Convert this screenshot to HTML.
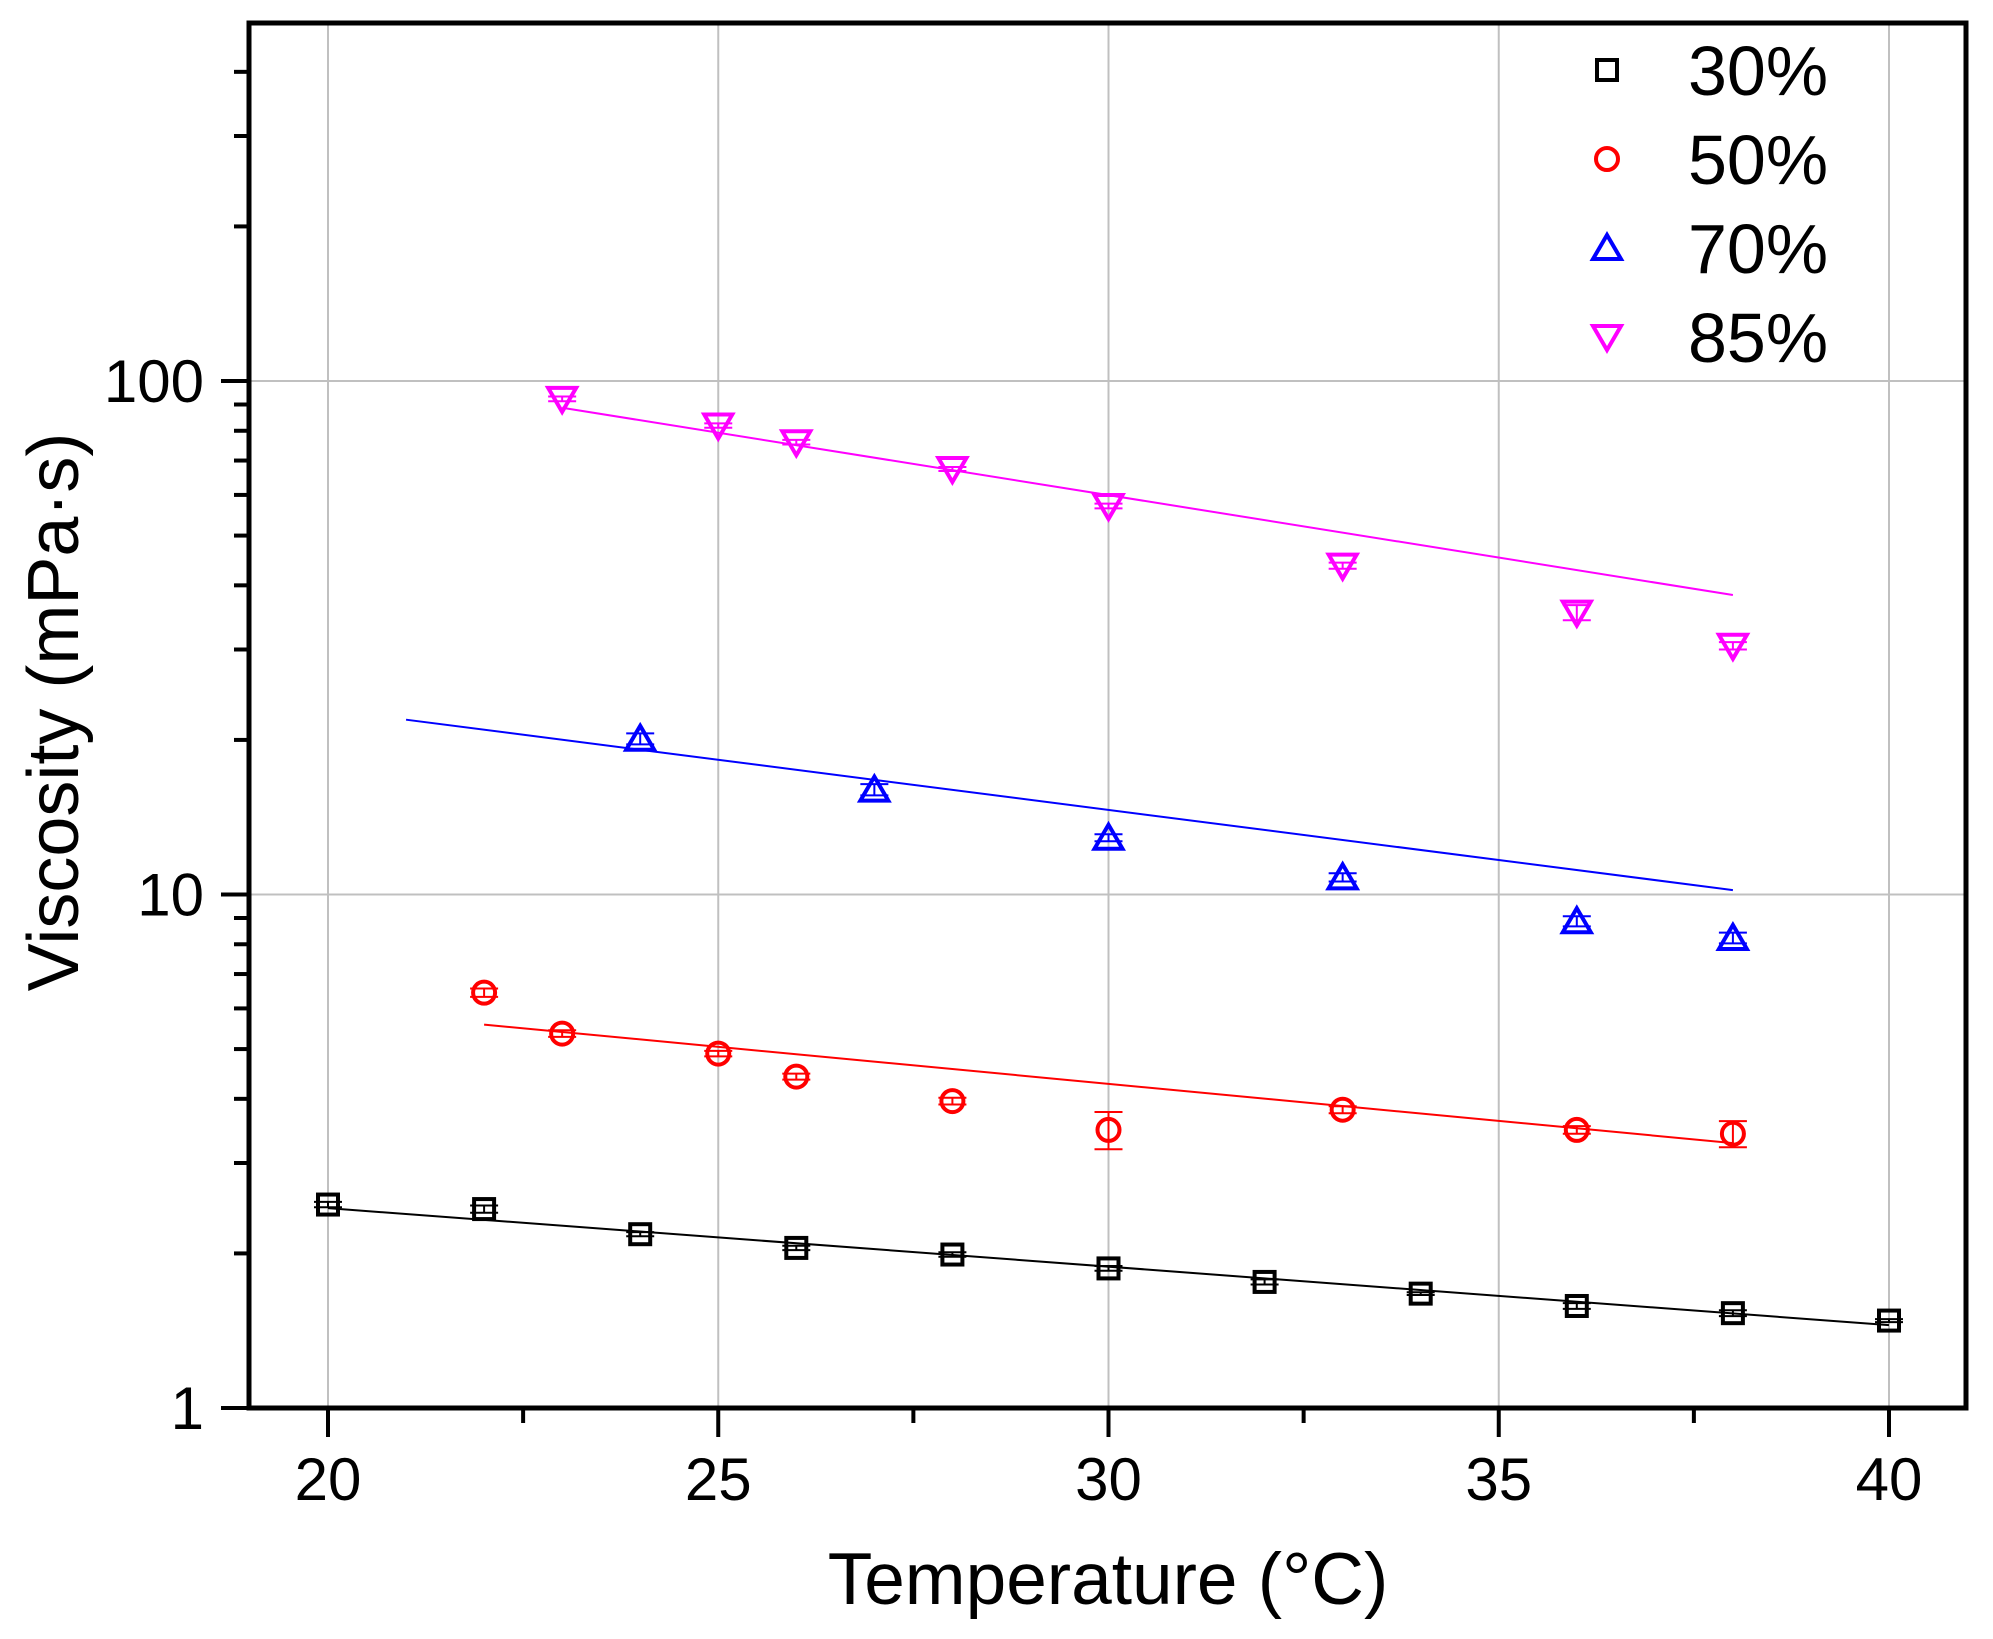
<!DOCTYPE html>
<html><head><meta charset="utf-8"><style>
html,body{margin:0;padding:0;background:#fff;}
svg{display:block;font-family:"Liberation Sans",Arial,sans-serif;}
</style></head><body>
<svg id="chart" width="1993" height="1639" viewBox="0 0 1993 1639" xmlns="http://www.w3.org/2000/svg">
<g id="grid"></g>
<g id="fits"></g>
<g id="marks"></g>
<g id="axes"></g>
<g id="legend"></g>
<text x="1108" y="1604" font-size="73" text-anchor="middle">Temperature (°C)</text>
<text transform="translate(78,712) rotate(-90)" font-size="72" text-anchor="middle">Viscosity (mPa·s)</text>
</svg>
<script>
const seriesNames = ["30%","50%","70%","85%"];
const seriesColors = ["#000000","#ff0000","#0000ff","#ff00ff"];
const seriesShapes = ["square","circle","triangle","itriangle"];
const x30 = [20,22,24,26,28,30,32,34,36,38,40];
const y30 = [2.49,2.44,2.18,2.05,1.99,1.87,1.76,1.67,1.58,1.53,1.48];
const e30 = [0.03,0.04,0.02,0.02,0.02,0.02,0.02,0.01,0.02,0.02,0.01];
const x50 = [22,23,25,26,28,30,33,36,38];
const y50 = [6.44,5.36,4.90,4.42,3.96,3.48,3.81,3.48,3.42];
const e50 = [0.12,0.08,0.06,0.06,0.06,0.29,0.06,0.06,0.2];
const x70 = [24,27,30,33,36,38];
const y70 = [20.1,16.0,12.9,10.8,8.87,8.23];
const e70 = [0.5,0.4,0.2,0.2,0.2,0.2];
const x85 = [23,25,26,28,30,33,36,38];
const y85 = [92.3,81.9,76.0,67.4,57.1,43.7,35.4,30.5];
const e85 = [1,0.8,0.8,0.6,0.6,0.6,1.2,0.5];
const fitX0 = [20,22,21,23];
const fitY0 = [2.45,5.58,21.9,88.7];
const fitX1 = [40,38,38,38];
const fitY1 = [1.45,3.28,10.2,38.3];
const xTicks = [20,25,30,35,40];
const xTickLabels = ["20","25","30","35","40"];
const yTicks = [1,10,100];
const yTickLabels = ["1","10","100"];

const L=249,R=1966,T=23,B=1408;
const X0=328, XU=(1889-328)/20;
function sx(v){return X0+(v-20)*XU;}
const YD=513.5;
function sy(v){return B-Math.log10(v)*YD;}
const NS="http://www.w3.org/2000/svg";
function mk(tag,attrs,parent){const e=document.createElementNS(NS,tag);for(const k in attrs)e.setAttribute(k,attrs[k]);parent.appendChild(e);return e;}
const grid=document.getElementById('grid'),axes=document.getElementById('axes'),marks=document.getElementById('marks'),fits=document.getElementById('fits'),legend=document.getElementById('legend');

xTicks.forEach((t,i)=>{
  const g=mk('line',{x1:sx(t),x2:sx(t),y1:T,y2:B,stroke:'#c0c0c0','stroke-width':2},grid);
  
  
  const tk=mk('line',{x1:sx(t),x2:sx(t),y1:B,y2:B+29,stroke:'#000','stroke-width':4},axes);
  
  
  const lb=mk('text',{x:sx(t),y:1500,'font-size':60,'text-anchor':'middle'},axes);
  lb.textContent=xTickLabels[i];
  
  
  if(t<40){const m=mk('line',{x1:sx(t+2.5),x2:sx(t+2.5),y1:B,y2:B+15,stroke:'#000','stroke-width':4},axes);
  
  }
});
yTicks.forEach((t,i)=>{
  const g=mk('line',{x1:L,x2:R,y1:sy(t),y2:sy(t),stroke:'#c0c0c0','stroke-width':2},grid);
  
  
  const tk=mk('line',{x1:L-28,x2:L,y1:sy(t),y2:sy(t),stroke:'#000','stroke-width':4},axes);
  
  
  const lb=mk('text',{x:204,y:sy(t)+21,'font-size':60,'text-anchor':'end'},axes);
  lb.textContent=yTickLabels[i];
  
  
  for(let k=2;k<=9;k++){const v=t*k;if(sy(v)<T)break;
    const m=mk('line',{x1:L-15,x2:L,y1:sy(v),y2:sy(v),stroke:'#000','stroke-width':4},axes);
    
    }
});
const fr=mk('rect',{x:L,y:T,width:R-L,height:B-T,fill:'none',stroke:'#000','stroke-width':5},axes);



function marker(shape,cx,cy,col,parent){
  let e;
  if(shape==='square') e=mk('rect',{x:cx-10,y:cy-10,width:20,height:20,fill:'none',stroke:col,'stroke-width':4},parent);
  else if(shape==='circle') e=mk('circle',{cx:cx,cy:cy,r:11,fill:'none',stroke:col,'stroke-width':4},parent);
  else if(shape==='triangle') e=mk('polygon',{points:`${cx},${cy-13} ${cx+14},${cy+11} ${cx-14},${cy+11}`,fill:'none',stroke:col,'stroke-width':4},parent);
  else e=mk('polygon',{points:`${cx},${cy+13} ${cx+14},${cy-11} ${cx-14},${cy-11}`,fill:'none',stroke:col,'stroke-width':4},parent);
  return e;
}
const XS=[x30,x50,x70,x85],YS=[y30,y50,y70,y85],ES=[e30,e50,e70,e85];
for(let s=0;s<4;s++){
  const col=seriesColors[s];
  const f=mk('line',{x1:sx(fitX0[s]),y1:sy(fitY0[s]),x2:sx(fitX1[s]),y2:sy(fitY1[s]),stroke:col,'stroke-width':2},fits);
  
  
  XS[s].forEach((xv,i)=>{
    const cx=sx(xv),cy=sy(YS[s][i]),yt=sy(YS[s][i]+ES[s][i]),yb=sy(YS[s][i]-ES[s][i]);
    const g=mk('g',{},marks);
    
    
    mk('line',{x1:cx,x2:cx,y1:yt,y2:yb,stroke:col,'stroke-width':2},g);
    mk('line',{x1:cx-14,x2:cx+14,y1:yt,y2:yt,stroke:col,'stroke-width':2},g);
    mk('line',{x1:cx-14,x2:cx+14,y1:yb,y2:yb,stroke:col,'stroke-width':2},g);
    marker(seriesShapes[s],cx,cy,col,g);
  });
}
seriesNames.forEach((n,i)=>{
  const cy=70+i*89;
  const g=mk('g',{},legend);
  
  
  marker(seriesShapes[i],1607,cy,seriesColors[i],g);
  const t=mk('text',{x:1688,y:cy+25,'font-size':70},g);
  t.textContent=n;
});
</script>
</body></html>
